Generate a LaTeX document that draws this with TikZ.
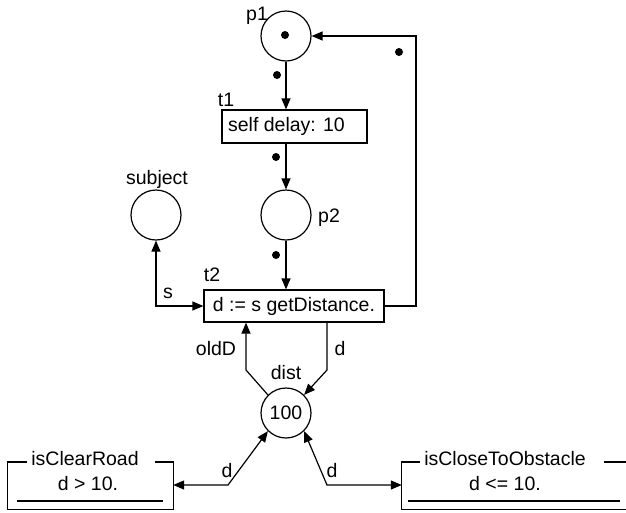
\documentclass[tikz,border=0pt]{standalone}
\usepackage{fontspec}
\setmainfont{Liberation Sans}
\usetikzlibrary{arrows.meta}
\tikzset{
  every node/.style={font=\fontsize{19.5}{23}\selectfont},
  place/.style={circle, draw, line width=1.2pt, minimum size=50pt, inner sep=0pt},
  trans/.style={rectangle, draw, line width=1.2pt, inner sep=0pt},
  lbl/.style={inner sep=0pt},
  tok/.style={circle, fill, minimum size=8pt, inner sep=0pt},
  guard/.style={rectangle, inner sep=0pt, minimum width=165pt, minimum height=47pt},
  arc/.style={line width=1.2pt, -{Triangle[length=11pt,width=9pt]}},
  biarc/.style={line width=1.2pt, {Triangle[length=11pt,width=9pt]}-{Triangle[length=11pt,width=9pt]}},
  frame/.style={line width=1.2pt},
}
\begin{document}
\begin{tikzpicture}[x=1pt, y=-1pt]
\useasboundingbox (0,0) rectangle (626,512);
\clip (0,0) rectangle (626,512);

% places
\node[place] (p1) at (286,36) {};
\node[tok] (p1tok) at (285,35) {};
\node[lbl] (p1lbl) at (257,16) {p1};

\node[place] (p2) at (286,215) {};
\node[lbl] (p2lbl) at (329,218) {p2};

\node[place] (subject) at (156,215) {};
\node[lbl] (subjlbl) at (157,179) {subject};

\node[place] (dist) at (286,413) {100};
\node[lbl] (distlbl) at (286,373) {dist};

% transitions (t1's inscription sits left of centre)
\node[trans, minimum width=145pt, minimum height=33pt] (t1) at (294.5,126.5) {self delay: 10\hspace*{16pt}};
\node[lbl] (t1lbl) at (226,100) {t1};

\node[trans, minimum width=180pt, minimum height=32pt] (t2) at (294,306) {d := s getDistance.};
\node[lbl] (t2lbl) at (212,275) {t2};

% condition boxes
\node[guard] (clear) at (90.5,485.5) {};
\node[lbl] (clearname) at (85,459) {isClearRoad};
\node[lbl] (cleartest) at (88,484) {d > 10.};
\draw[frame] (27,462) -| (clear.south west) -- (clear.south east) |- (155,462);
\draw[frame] (17,501) -- (163,501);

\node[guard, minimum width=228pt] (close) at (516,485.5) {};
\node[lbl] (closename) at (505,459) {isCloseToObstacle};
\node[lbl] (closetest) at (505,484) {d <= 10.};
\draw[frame] (420,462) -| (close.south west) -- (close.south east) |- (604,462);
\draw[frame] (408,501) -- (620,501);

% arcs of the upper cycle
\draw[arc] (p1.south) -- (p1.south |- t1.north);
\node[tok] (k1) at (277,75) {};
\draw[arc] (t1.south -| p2) -- (p2.north);
\node[tok] (k2) at (276,157) {};
\draw[arc] (p2.south) -- (p2.south |- t2.north);
\node[tok] (k3) at (276,255) {};

\coordinate (rc) at (416,36);
\draw[arc] (t2.east) -| (rc) -- (p1.east);
\node[tok] (k4) at (399,52) {};

% subject read arc
\draw[biarc] (t2.west) -| (subject.south);
\node[lbl] (slbl) at (168,293) {s};

% dist arcs
\coordinate (ob) at (246,370);
\draw[arc] (dist.135) -- (ob) -- (ob |- t2.south);
\node[lbl] (oldlbl) at (216,349) {oldD};

\coordinate (db) at (327,370);
\draw[arc] (db |- t2.south) -- (db) -- (dist.45);
\node[lbl] (dlbl) at (340,349) {d};

\coordinate (bl) at (228,485);
\draw[biarc] (dist.225) -- (bl) -- (bl -| clear.east);
\node[lbl] (dl1) at (227,471) {d};

\coordinate (br) at (327,485);
\draw[biarc] (dist.315) -- (br) -- (br -| close.west);
\node[lbl] (dl2) at (332,471) {d};
\end{tikzpicture}
\end{document}
